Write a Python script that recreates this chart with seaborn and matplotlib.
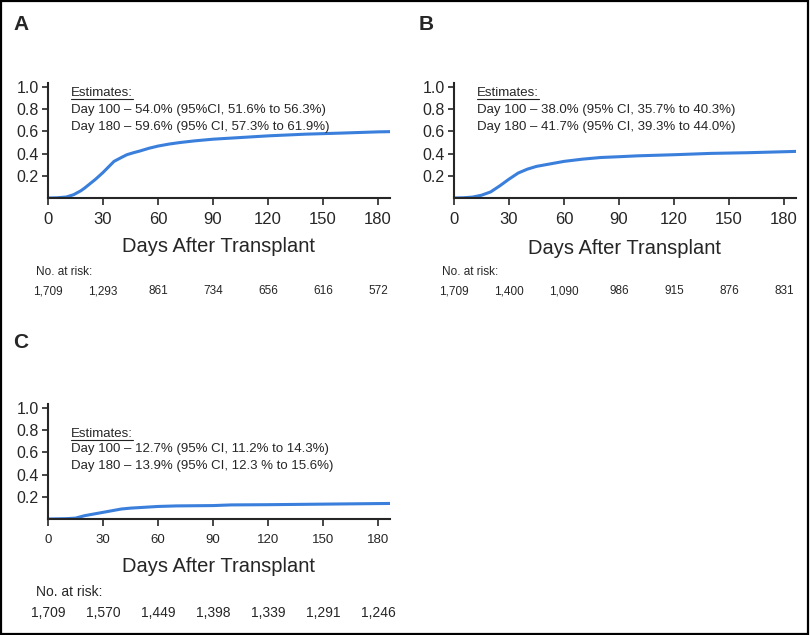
import matplotlib.pyplot as plt
import matplotlib.transforms as mtransforms
from matplotlib.patches import Rectangle
import pandas as pd
import seaborn as sns

# cumulative incidence curves
days_a = [0, 5, 10, 14, 18, 20, 23, 26, 30, 33, 36, 40, 43, 47, 50, 55, 60, 66, 72, 80, 90, 100, 120, 140, 160, 180, 186.5]
cif_a = [0, 0.002, 0.009, 0.03, 0.066, 0.09, 0.13, 0.17, 0.23, 0.28, 0.33, 0.365, 0.39, 0.41, 0.423, 0.448, 0.468, 0.486, 0.50, 0.515, 0.53, 0.54, 0.56, 0.575, 0.585, 0.596, 0.598]

days_b = [0, 5, 10, 15, 20, 25, 30, 35, 40, 45, 50, 55, 60, 70, 80, 90, 100, 120, 140, 160, 180, 186.5]
cif_b = [0, 0.002, 0.008, 0.025, 0.055, 0.11, 0.17, 0.225, 0.26, 0.285, 0.30, 0.315, 0.33, 0.35, 0.365, 0.372, 0.38, 0.39, 0.402, 0.408, 0.417, 0.42]

days_c = [0, 10, 15, 20, 25, 30, 35, 40, 45, 50, 60, 70, 90, 100, 120, 150, 180, 186.5]
cif_c = [0, 0.003, 0.008, 0.03, 0.045, 0.06, 0.075, 0.09, 0.098, 0.103, 0.113, 0.118, 0.121, 0.127, 0.129, 0.134, 0.139, 0.14]

risk_days = [0, 30, 60, 90, 120, 150, 180]
risk_a = ['1,709', '1,293', '861', '734', '656', '616', '572']
risk_b = ['1,709', '1,400', '1,090', '986', '915', '876', '831']
risk_c = ['1,709', '1,570', '1,449', '1,398', '1,339', '1,291', '1,246']

est_a = ['Day 100 – 54.0% (95%CI, 51.6% to 56.3%)', 'Day 180 – 59.6% (95% CI, 57.3% to 61.9%)']
est_b = ['Day 100 – 38.0% (95% CI, 35.7% to 40.3%)', 'Day 180 – 41.7% (95% CI, 39.3% to 44.0%)']
est_c = ['Day 100 – 12.7% (95% CI, 11.2% to 14.3%)', 'Day 180 – 13.9% (95% CI, 12.3 % to 15.6%)']

sns.set_style('ticks')
plt.rcParams['font.family'] = ['Liberation Sans', 'DejaVu Sans']

W, H = 810, 635
fig = plt.figure(figsize=(W / 100, H / 100), dpi=100)
fig.add_artist(Rectangle((0.001, 0.001), 0.997, 0.997, transform=fig.transFigure,
                         fill=False, edgecolor='black', linewidth=1.6))

blue = '#3A7FDB'
PXH = 115.4  # axes height in pixels
renderer = fig.canvas.get_renderer()


def panel(letter, x0, y0, days, cif, est, est_base, risk, risk_fs, xt_fs, xt_pad, label_y, risk_y, nar_x):
    # x0 = pixel of y-axis, y0 = pixel of zero line (from top)
    ax = fig.add_axes([x0 / W, (H - y0) / H, 342 / W, PXH / H])
    df = pd.DataFrame({'day': days, 'cif': cif})
    sns.lineplot(data=df, x='day', y='cif', ax=ax, color=blue, linewidth=2.2)
    ax.set_xlim(0, 186.5)
    ax.set_ylim(0, 1.04)
    ax.set_xticks(risk_days)
    ax.set_yticks([0.2, 0.4, 0.6, 0.8, 1.0])
    ax.set_yticklabels(['0.2', '0.4', '0.6', '0.8', '1.0'])
    ax.tick_params(axis='x', labelsize=xt_fs, length=5, width=1.2, pad=xt_pad)
    ax.tick_params(axis='y', labelsize=11.5, length=4.5, width=1.2, pad=2)
    for s in ['left', 'bottom']:
        ax.spines[s].set_linewidth(1.5)
    sns.despine(ax=ax)
    ax.set_xlabel('')
    ax.set_ylabel('')
    ax.text(0.5, -(label_y - y0) / PXH, 'Days After Transplant', transform=ax.transAxes,
            ha='center', va='center', fontsize=14.5)
    # estimates block (baseline positions in pixels from top)
    to_y = lambda p: (y0 - p) / (PXH / 1.04)
    head = ax.text(12.5, to_y(est_base[0]), 'Estimates:', fontsize=9.5, va='baseline', ha='left')
    bb = head.get_window_extent(renderer=renderer)
    x_end = ax.transData.inverted().transform((bb.x1, bb.y0))[0]
    ax.plot([12.5, x_end], [to_y(est_base[0] + 2.5)] * 2, color='#222222', linewidth=0.8)
    ax.text(12.5, to_y(est_base[1]), est[0], fontsize=9.5, va='baseline', ha='left')
    ax.text(12.5, to_y(est_base[2]), est[1], fontsize=9.5, va='baseline', ha='left')
    # panel letter
    fig.text(label_pos[letter][0] / W, 1 - label_pos[letter][1] / H, letter, fontsize=15,
             fontweight='bold', ha='center', va='center')
    # number at risk
    fig.text(nar_x / W, 1 - risk_y[0] / H, 'No. at risk:', fontsize=risk_fs, ha='left', va='center')
    tr = mtransforms.blended_transform_factory(ax.transData, fig.transFigure)
    for d, r in zip(risk_days, risk):
        ax.text(d, 1 - risk_y[1] / H, r, transform=tr, ha='center', va='center',
                fontsize=risk_fs, clip_on=False)
    return ax


label_pos = {'A': (21, 25), 'B': (426, 25), 'C': (21, 342)}

panel('A', 48, 198, days_a, cif_a, est_a, [96, 113, 130], risk_a, 8.5, 12, 5, 246, (272, 291), 36)
panel('B', 454, 198, days_b, cif_b, est_b, [96, 113, 130], risk_b, 8.5, 12, 5, 248, (272, 291), 442)
panel('C', 48, 519, days_c, cif_c, est_c, [437, 452, 469], risk_c, 10, 9.5, 6, 566, (592, 613), 36)

fig.savefig('out.png', dpi=100)
